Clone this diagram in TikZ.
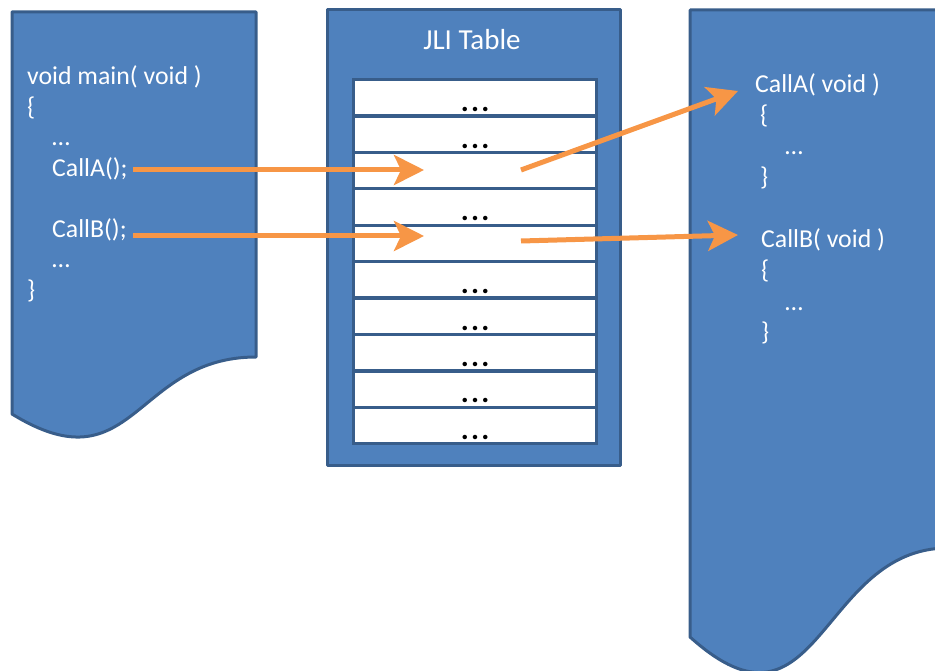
\documentclass[tikz,border=0pt]{standalone}
\usepackage{fontspec}
\setmainfont{Carlito}
\usetikzlibrary{arrows.meta}
\definecolor{docfill}{HTML}{4F81BD}
\definecolor{docline}{HTML}{385D8A}
\definecolor{arroworange}{HTML}{F79646}
\tikzset{
  docshape/.style={fill=docfill, draw=docline, line width=3pt, line join=round},
  rowbox/.style={fill=white, draw=docline, line width=3.3pt},
  codetext/.style={text=white, anchor=base west, inner sep=0pt, font=\fontsize{25.8}{31}\selectfont},
  titletext/.style={text=white, anchor=base, inner sep=0pt, font=\fontsize{29}{35}\selectfont},
  dotstext/.style={text=black, anchor=base, inner sep=0pt, font=\fontsize{30}{36}\selectfont\bfseries},
  callarrow/.style={draw=arroworange, line width=5pt, -{Stealth[length=30pt, width=30pt, inset=7pt]}},
}
\begin{document}
\begin{tikzpicture}[x=1pt, y=-1pt]
\useasboundingbox (0,0) rectangle (935,671);
\clip (0,0) rectangle (935,671);

% left document (caller)
\path[docshape] (12,12) -- (256,12) -- (256,357)
  .. controls (134,357) and (134,489) .. (12,414) -- cycle;

% right document (callees)
\path[docshape] (690,10) -- (948,10) -- (948,548)
  .. controls (819,548) and (819,753) .. (690,637) -- cycle;

% JLI table frame
\node[docshape, minimum width=293pt, minimum height=456pt, inner sep=0pt, anchor=north west] (table) at (326,8) {};
\node[titletext] (title) at (472,50) {JLI Table};

% rows
\foreach \i in {1,...,10} {
  \pgfmathsetmacro{\top}{78+36.4*(\i-1)}
  \node[rowbox, minimum width=243pt, minimum height=36.4pt, inner sep=0pt, anchor=north west] (row\i) at (352,\top) {};
}
\foreach \i in {1,2,4,6,7,8,9,10} {
  \node[dotstext] (dots\i) at ([yshift=6pt]row\i.south) {.\kern2.2pt.\kern2.2pt.};
}

% left code
\node[codetext] (lmain) at (27,85) {void main( void )};
\node[codetext] (lopen) at (27,115.5) {\{};
\node[codetext] (ldots1) at (52,146) {…};
\node[codetext] (lcalla) at (52,176.5) {CallA();};
\node[codetext] (lcallb) at (52,237.5) {CallB();};
\node[codetext] (ldots2) at (52,268) {…};
\node[codetext] (lclose) at (27,298.5) {\}};

% right code
\node[codetext] (ra) at (755,93) {CallA( void )};
\node[codetext] (raopen) at (760,124) {\{};
\node[codetext] (radots) at (785,155) {…};
\node[codetext] (raclose) at (760,186) {\}};
\node[codetext] (rb) at (761,248) {CallB( void )};
\node[codetext] (rbopen) at (761,279) {\{};
\node[codetext] (rbdots) at (785,310) {…};
\node[codetext] (rbclose) at (761,341) {\}};

% arrow end points
\coordinate (a1s) at (133,170);
\coordinate (a1e) at (424,170);
\coordinate (a2s) at (133,236);
\coordinate (a2e) at (424,236);
\coordinate (a3s) at (521,170);
\coordinate (a3e) at (738,91);
\coordinate (a4s) at (521,241);
\coordinate (a4e) at (738,235);

\draw[callarrow] (a1s) -- (a1e);
\draw[callarrow] (a2s) -- (a2e);
\draw[callarrow] (a3s) -- (a3e);
\draw[callarrow] (a4s) -- (a4e);
\end{tikzpicture}
\end{document}
